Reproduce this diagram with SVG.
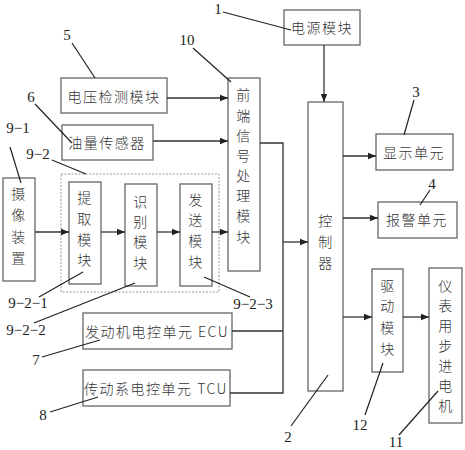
<svg xmlns="http://www.w3.org/2000/svg" width="465" height="450" viewBox="0 0 465 450">
<defs>
<marker id="ah" viewBox="0 0 10 10" refX="10" refY="5" markerWidth="8" markerHeight="8" markerUnits="userSpaceOnUse" orient="auto"><path d="M0,1 L10,5 L0,9 z" fill="#222"/></marker>
<style>
.box{fill:#fff;stroke:#666;stroke-width:1.3}
.dash{fill:none;stroke:#999;stroke-width:1;stroke-dasharray:2,1.5}
.ln{fill:none;stroke:#333;stroke-width:1.3}
.ar{fill:none;stroke:#333;stroke-width:1.3;marker-end:url(#ah)}
.ld{fill:none;stroke:#222;stroke-width:1.2}
.t{font-family:"Noto Sans CJK SC","Liberation Serif",serif;font-size:14px;font-weight:300;fill:#333;text-anchor:middle;dominant-baseline:central;letter-spacing:1.5px}
.n{font-family:"Liberation Serif",serif;font-size:15px;fill:#222;text-anchor:middle;dominant-baseline:central}
</style>
</defs>
<rect width="465" height="450" fill="#fff"/>

<g id="n1"><rect class="box" x="284" y="10" width="76" height="35"/><text class="t" x="322" y="27">电源模块</text></g>
<g id="n2"><rect class="box" x="308" y="102" width="35" height="289"/>
<text class="t" x="326" y="220">控</text><text class="t" x="326" y="241">制</text><text class="t" x="326" y="262">器</text></g>
<g id="n3"><rect class="box" x="376" y="134" width="77" height="36"/><text class="t" x="414" y="152">显示单元</text></g>
<g id="n4"><rect class="box" x="378" y="202" width="79" height="36"/><text class="t" x="417" y="219">报警单元</text></g>
<g id="n5"><rect class="box" x="61" y="78" width="106" height="35"/><text class="t" x="114" y="96">电压检测模块</text></g>
<g id="n6"><rect class="box" x="62" y="125" width="91" height="35"/><text class="t" x="107" y="142">油量传感器</text></g>
<g id="n10"><rect class="box" x="228" y="78" width="32" height="193"/>
<text class="t" x="244" y="94">前</text><text class="t" x="244" y="115">端</text><text class="t" x="244" y="135">信</text><text class="t" x="244" y="155">号</text><text class="t" x="244" y="175">处</text><text class="t" x="244" y="195">理</text><text class="t" x="244" y="215">模</text><text class="t" x="244" y="236">块</text></g>
<g id="n9-1"><rect class="box" x="3" y="178" width="32" height="103"/>
<text class="t" x="19" y="193">摄</text><text class="t" x="19" y="214">像</text><text class="t" x="19" y="236">装</text><text class="t" x="19" y="257">置</text></g>
<g id="n9-2"><rect class="dash" x="61" y="174" width="158" height="118"/></g>
<g id="n9-2-1"><rect class="box" x="69" y="182" width="32" height="102"/>
<text class="t" x="85" y="197">提</text><text class="t" x="85" y="218">取</text><text class="t" x="85" y="239">模</text><text class="t" x="85" y="259">块</text></g>
<g id="n9-2-2"><rect class="box" x="125" y="184" width="32" height="102"/>
<text class="t" x="141" y="201">识</text><text class="t" x="141" y="221">别</text><text class="t" x="141" y="241">模</text><text class="t" x="141" y="262">块</text></g>
<g id="n9-2-3"><rect class="box" x="180" y="184" width="32" height="102"/>
<text class="t" x="196" y="199">发</text><text class="t" x="196" y="219">送</text><text class="t" x="196" y="240">模</text><text class="t" x="196" y="261">块</text></g>
<g id="n7"><rect class="box" x="83" y="313" width="149" height="36"/><text class="t" x="157" y="331">发动机电控单元 ECU</text></g>
<g id="n8"><rect class="box" x="83" y="370" width="147" height="36"/><text class="t" x="156" y="388">传动系电控单元 TCU</text></g>
<g id="n12"><rect class="box" x="372" y="269" width="31" height="103"/>
<text class="t" x="388" y="285">驱</text><text class="t" x="388" y="305">动</text><text class="t" x="388" y="327">模</text><text class="t" x="388" y="348">块</text></g>
<g id="n11"><rect class="box" x="429" y="268" width="33" height="155"/>
<text class="t" x="446" y="285">仪</text><text class="t" x="446" y="305">表</text><text class="t" x="446" y="325">用</text><text class="t" x="446" y="345">步</text><text class="t" x="446" y="365">进</text><text class="t" x="446" y="385">电</text><text class="t" x="446" y="405">机</text></g>

<g id="connectors">
<path class="ar" d="M324,45 V102"/>
<path class="ar" d="M167,98 H228"/>
<path class="ar" d="M153,141 H228"/>
<path class="ar" d="M35,232 H69"/>
<path class="ar" d="M101,232 H125"/>
<path class="ar" d="M157,232 H180"/>
<path class="ar" d="M212,232 H228"/>
<path class="ln" d="M260,143 H283 V393 H230"/>
<path class="ln" d="M232,331 H283"/>
<path class="ar" d="M283,242 H308"/>
<path class="ar" d="M343,156 H376"/>
<path class="ar" d="M343,218 H378"/>
<path class="ar" d="M343,317 H372"/>
<path class="ar" d="M403,317 H429"/>
</g>

<g id="labels">
<text class="n" x="218" y="9">1</text><path class="ld" d="M223,12 L291,30"/>
<text class="n" x="67" y="35">5</text><path class="ld" d="M72,43 L95,78"/>
<text class="n" x="187" y="40">10</text><path class="ld" d="M193,48 L231,82"/>
<text class="n" x="31" y="97">6</text><path class="ld" d="M35,104 L72,143"/>
<text class="n" x="18" y="128">9−1</text><path class="ld" d="M10,147 L21,183"/>
<text class="n" x="38" y="154">9−2</text><path class="ld" d="M52,160 L86,174"/>
<text class="n" x="416" y="92">3</text><path class="ld" d="M414,100 L404,135"/>
<text class="n" x="432" y="184">4</text><path class="ld" d="M430,190 L420,205"/>
<text class="n" x="28" y="303">9−2−1</text><path class="ld" d="M39,297 L83,272"/>
<text class="n" x="26" y="330">9−2−2</text><path class="ld" d="M34,323 L135,283"/>
<text class="n" x="253" y="304">9−2−3</text><path class="ld" d="M204,277 L250,297"/>
<text class="n" x="36" y="360">7</text><path class="ld" d="M42,357 L100,340"/>
<text class="n" x="43" y="415">8</text><path class="ld" d="M50,412 L98,397"/>
<text class="n" x="288" y="437">2</text><path class="ld" d="M291,426 L328,375"/>
<text class="n" x="360" y="425">12</text><path class="ld" d="M365,415 L383,363"/>
<text class="n" x="396" y="442">11</text><path class="ld" d="M399,435 L438,391"/>
</g>
</svg>
